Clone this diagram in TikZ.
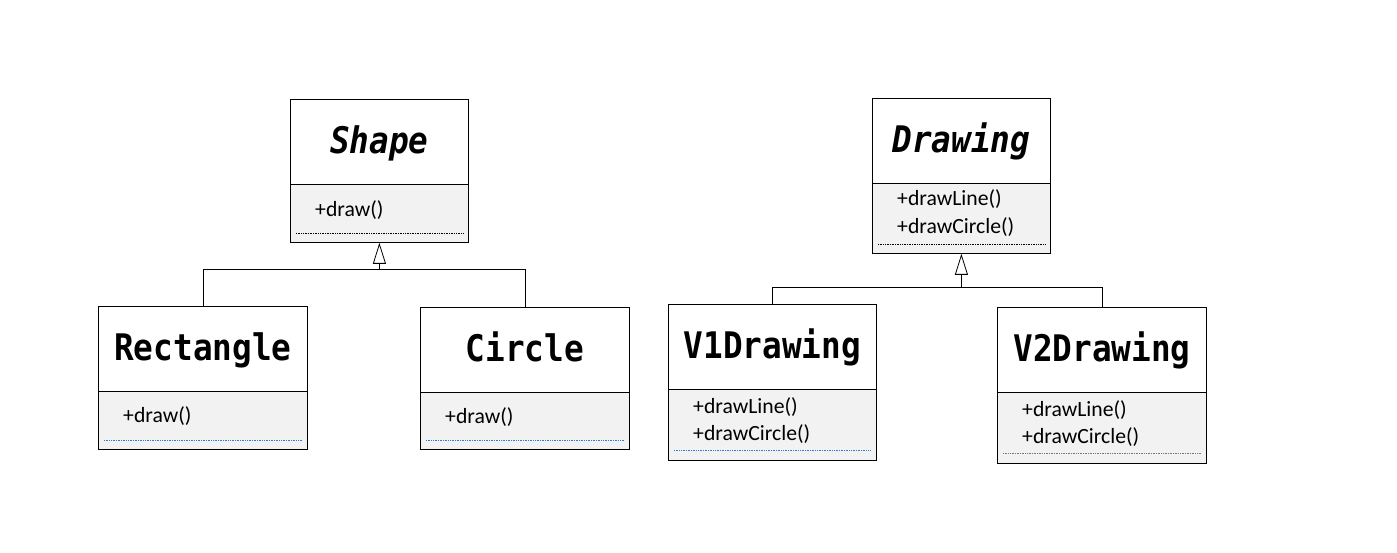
\documentclass[tikz,border=0pt]{standalone}
\usepackage{fontspec}
\usepackage{graphicx}
\setmainfont{Carlito}
\newfontfamily\titlefont{DejaVu Sans Mono}
\usetikzlibrary{arrows.meta,calc}
\definecolor{methfill}{HTML}{F2F2F2}
\definecolor{sepblue}{HTML}{2E7BD6}
\definecolor{sepgray}{HTML}{6A7888}

% class names are set a little taller than the font's natural shape
\newcommand\classname[1]{\scalebox{1}[1.12]{#1}}

\tikzset{
  titlebox/.style={draw, line width=0.8pt, fill=white, anchor=north west, inner sep=0pt,
    text height=28pt, text depth=4pt,
    font=\titlefont\bfseries\fontsize{32.7}{36}\selectfont},
  abstractbox/.style={titlebox, font=\titlefont\bfseries\itshape\fontsize{32.7}{36}\selectfont},
  methbox/.style={draw, line width=0.8pt, fill=methfill, anchor=north west, inner sep=0pt},
  op/.style={anchor=west, inner sep=0pt, font=\fontsize{21.7}{26}\selectfont},
  sepline/.style={densely dotted, line width=0.7pt},
  link/.style={draw, line width=0.8pt},
  inh/.style={link, -{Triangle[open, length=21pt, width=13pt, line width=0.8pt]}},
}

\begin{document}
\begin{tikzpicture}[x=1pt, y=-1pt]
  \useasboundingbox (0,0) rectangle (1397,553);

  % --- Shape hierarchy ---
  \node[abstractbox, minimum width=178pt, minimum height=85pt] (shape) at (290,99) {\classname{Shape}};
  \node[methbox, minimum width=178pt, minimum height=58pt] (shapeM) at (290,184) {};
  \node[op] (shapeOp) at (315,210) {+draw()};
  \draw[sepline, black] ($(shapeM.south west)+(6,-9)$) -- ($(shapeM.south east)+(-6,-9)$);

  \node[titlebox, minimum width=209pt, minimum height=85pt] (rect) at (98,306) {\classname{Rectangle}};
  \node[methbox, minimum width=209pt, minimum height=58pt] (rectM) at (98,391) {};
  \node[op] (rectOp) at (123,416) {+draw()};
  \draw[sepline, sepblue] ($(rectM.south west)+(6,-9)$) -- ($(rectM.south east)+(-6,-9)$);

  \node[titlebox, minimum width=209pt, minimum height=85pt] (circ) at (420,307) {\classname{Circle}};
  \node[methbox, minimum width=209pt, minimum height=57pt] (circM) at (420,392) {};
  \node[op] (circOp) at (445,417) {+draw()};
  \draw[sepline, sepblue] ($(circM.south west)+(6,-9)$) -- ($(circM.south east)+(-6,-9)$);

  \coordinate (sj) at ($(shapeM.south)+(0,27)$);
  \draw[link] (rect.north) |- (sj) -| (circ.north);
  \draw[inh] (sj) -- (shapeM.south);

  % --- Drawing hierarchy ---
  \node[abstractbox, minimum width=178pt, minimum height=85pt] (draw) at (872,98) {\classname{Drawing}};
  \node[methbox, minimum width=178pt, minimum height=70pt] (drawM) at (872,183) {};
  \node[op] (drawOpA) at (897,199) {+drawLine()};
  \node[op] (drawOpB) at (897,227) {+drawCircle()};
  \draw[sepline, black] ($(drawM.south west)+(6,-9)$) -- ($(drawM.south east)+(-6,-9)$);

  \node[titlebox, minimum width=208pt, minimum height=85pt] (vone) at (668,304) {\classname{V1Drawing}};
  \node[methbox, minimum width=208pt, minimum height=71pt] (voneM) at (668,389) {};
  \node[op] (voneOpA) at (693,407) {+drawLine()};
  \node[op] (voneOpB) at (693,434) {+drawCircle()};
  \draw[sepline, sepblue] ($(voneM.south west)+(6,-10)$) -- ($(voneM.south east)+(-6,-10)$);

  \node[titlebox, minimum width=209pt, minimum height=85pt] (vtwo) at (997,307) {\classname{V2Drawing}};
  \node[methbox, minimum width=209pt, minimum height=71pt] (vtwoM) at (997,392) {};
  \node[op] (vtwoOpA) at (1022,410) {+drawLine()};
  \node[op] (vtwoOpB) at (1022,437) {+drawCircle()};
  \draw[sepline, sepgray] ($(vtwoM.south west)+(6,-10)$) -- ($(vtwoM.south east)+(-6,-10)$);

  \coordinate (dj) at ($(drawM.south)+(0,34)$);
  \draw[link] (vone.north) |- (dj) -| (vtwo.north);
  \draw[inh] (dj) -- (drawM.south);
\end{tikzpicture}
\end{document}
